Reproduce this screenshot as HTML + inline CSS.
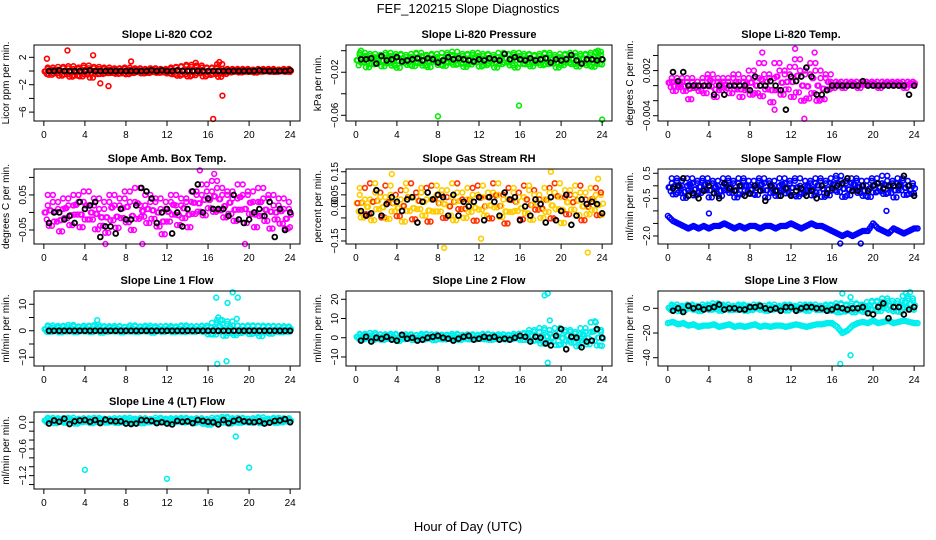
<!DOCTYPE html>
<html><head><meta charset="utf-8"><style>
body{margin:0;background:#fff;}
svg{display:block;font-family:"Liberation Sans",sans-serif;}
</style></head><body>
<svg id="chart" width="936" height="540" viewBox="0 0 936 540">
<text x="468" y="13" text-anchor="middle" font-size="13">FEF_120215  Slope Diagnostics</text>
<text x="468" y="531" text-anchor="middle" font-size="13">Hour of Day (UTC)</text>
</svg>
<script>
// x ticks shared
const xTicks=[0,4,8,12,16,20,24];
// CO2
const co2A=[0.3,0.5,0.2,0.6,0.4,0.7,0.3,0.5,0.8,0.4,0.6,0.3,0.5,0.2,0.4,0.3,0.5,0.2,0.4,0.3,0.2,0.4,0.3,0.2,0.3,0.5,0.6,0.7,0.9,0.6,0.8,0.5,0.4,0.5,1.0,0.3,0.2,0.3,0.2,0.3,0.2,0.1,0.3,0.2,0.3,0.2,0.2,0.3,0.2];
const co2B=[-0.6,-0.8,-0.5,-1.0,-0.7,-1.2,-0.9,-1.1,-0.8,-1.3,-0.7,-0.6,-0.5,-0.4,-0.6,-0.5,-0.7,-0.4,-0.3,-0.5,-0.4,-0.3,-0.4,-0.3,-0.5,-0.7,-1.0,-0.8,-1.2,-0.9,-0.6,-1.1,-0.8,-0.7,-1.3,-0.6,-0.3,-0.2,-0.3,-0.2,-0.2,-0.3,-0.2,-0.1,-0.2,-0.2,-0.1,-0.2];
const co2K=[0,0,0.1,0,0,0,0,0,0.1,0,0,0,0,0,0,0,0,0,0,0,0.1,0,0.1,0,0,0.1,0,0,0,0,0,0,0,0,0,0,0,0,0,0,0,0.1,0,0,0,0,0,0.1];
const co2OX=[0.3,2.3,4.8,5.5,6.3,8.5,16.5,17.4,17.1,14.8];
const co2OY=[1.8,3.0,2.3,-1.8,-2.2,1.4,-7.0,-3.6,1.3,1.2];
// Pressure
const prA=[-0.004,-0.002,-0.005,-0.003,-0.006,-0.004,-0.002,-0.005,-0.003,-0.004,-0.006,-0.003,-0.002,-0.005,-0.004,-0.003,-0.006,-0.002,-0.004,-0.001,-0.005,-0.003,-0.004,-0.002,-0.005,-0.003,-0.004,-0.006,-0.002,-0.003,-0.004,-0.002,-0.005,-0.003,-0.004,-0.005,-0.003,-0.002,-0.004,-0.006,-0.003,-0.004,-0.002,-0.005,-0.003,-0.004,-0.002,-0.001,-0.004];
const prB=[-0.016,-0.013,-0.018,-0.015,-0.012,-0.017,-0.014,-0.016,-0.019,-0.013,-0.015,-0.017,-0.014,-0.016,-0.018,-0.012,-0.015,-0.017,-0.013,-0.016,-0.014,-0.018,-0.015,-0.013,-0.017,-0.016,-0.014,-0.018,-0.015,-0.013,-0.016,-0.019,-0.014,-0.015,-0.017,-0.013,-0.016,-0.015,-0.014,-0.018,-0.016,-0.013,-0.015,-0.017,-0.014,-0.016,-0.018,-0.015];
const prK=[-0.008,-0.008,-0.007,-0.012,-0.005,-0.009,-0.008,-0.006,-0.010,-0.009,-0.008,-0.007,-0.009,-0.007,-0.008,-0.011,-0.009,-0.006,-0.008,-0.007,-0.008,-0.009,-0.010,-0.008,-0.009,-0.007,-0.008,-0.009,-0.003,-0.008,-0.006,-0.008,-0.009,-0.007,-0.009,-0.008,-0.007,-0.011,-0.008,-0.009,-0.008,-0.004,-0.009,-0.012,-0.008,-0.008,-0.009,-0.008];
const prOX=[8.0,15.9,24.0,0.5,23.6];
const prOY=[-0.061,-0.051,-0.064,0.000,0.000];
// Li-820 Temp
const tpA=[0.0010,0.0005,0.0010,0.0005,0.0010,0.0005,0.0005,0.0010,0.0015,0.0005,0.0010,0.0005,0.0010,0.0015,0.0005,0.0010,0.0020,0.0010,0.0030,0.0015,0.0010,0.0030,0.0020,0.0015,0.0025,0.0035,0.0020,0.0015,0.0030,0.0020,0.0010,0.0015,0.0005,0.0005,0.0005,0.0005,0.0005,0.0005,0.0005,0.0005,0.0005,0.0005,0.0005,0.0005,0.0005,0.0005,0.0005,0.0005,0.0005];
const tpB=[-0.0005,-0.0010,-0.0005,-0.0010,-0.0025,-0.0005,-0.0010,-0.0015,-0.0005,-0.0020,-0.0010,-0.0005,-0.0015,-0.0010,-0.0020,-0.0010,-0.0020,-0.0015,-0.0025,-0.0010,-0.0030,-0.0015,-0.0020,-0.0010,-0.0025,-0.0020,-0.0030,-0.0025,-0.0020,-0.0030,-0.0025,-0.0010,-0.0005,0,-0.0005,0,0,-0.0005,0,0,0,-0.0005,0,0,0,0,-0.0005,0];
const tpK=[0.0018,0.0006,0.0018,0,0,0,0,0,-0.0012,0,-0.0012,0,0,0,0,-0.0006,0.0012,0,0,0.0006,0,-0.0006,-0.0032,0.0012,0.0006,0.0012,0.0024,0.0012,-0.0012,-0.0012,-0.0006,0,0,0,0,0,0,0.0006,0,0,0,0,0,0,0,0,-0.0012,0];
const tpOX=[9.2,12.4,14.3,13.3,10.4];
const tpOY=[0.0044,0.0049,0.0044,-0.0044,-0.0032];
// Amb box temp
const abA=[0.02,0.05,0.03,0.01,0.04,0.02,0.05,0.03,0.06,0.02,0.04,0.01,0.03,0.05,0.02,0.04,0.06,0.03,0.07,0.02,0.05,0.03,0.04,0.01,0.03,0.05,0.02,0.04,0.03,0.06,0.05,0.08,0.06,0.09,0.07,0.05,0.06,0.04,0.08,0.05,0.06,0.03,0.07,0.04,0.05,0.02,0.04,0.01,0.03];
const abB=[-0.03,-0.06,-0.04,-0.07,-0.03,-0.05,-0.02,-0.06,-0.04,-0.03,-0.07,-0.05,-0.08,-0.04,-0.06,-0.03,-0.05,-0.07,-0.04,-0.02,-0.05,-0.03,-0.06,-0.08,-0.04,-0.02,-0.05,-0.03,-0.06,-0.02,-0.01,-0.03,0.00,-0.02,-0.01,-0.03,-0.02,-0.04,-0.01,-0.05,-0.02,-0.06,-0.03,-0.04,-0.07,-0.03,-0.05,-0.06];
const abK=[-0.03,0.00,0.00,-0.02,-0.01,-0.03,0.03,0.01,0.02,0.03,-0.07,-0.04,-0.04,-0.06,0.01,-0.02,-0.02,0.02,0.07,0.06,0.04,-0.03,0.00,0.01,-0.06,0.00,-0.04,0.01,0.06,0.08,0.00,0.04,0.01,0.01,0.01,-0.01,0.05,-0.02,-0.03,-0.02,0.00,0.01,-0.01,0.03,-0.07,0.01,-0.05,0.00];
const abOX=[15.2,16.6,6.0,19.6,9.6];
const abOY=[0.12,0.11,-0.09,-0.09,-0.09];
// Gas stream RH
const rhA=[0.05,0.08,0.03,0.10,0.06,0.04,0.09,0.05,0.03,0.07,0.10,0.04,0.06,0.08,0.03,0.09,0.05,0.07,0.04,0.10,0.06,0.03,0.08,0.05,0.09,0.04,0.06,0.10,0.05,0.03,0.08,0.06,0.04,0.09,0.07,0.05,0.03,0.08,0.06,0.10,0.04,0.07,0.05,0.09,0.06,0.03,0.08,0.05,0.06];
const rhB=[-0.04,-0.08,-0.05,-0.10,-0.03,-0.07,-0.09,-0.04,-0.06,-0.10,-0.05,-0.08,-0.03,-0.07,-0.09,-0.05,-0.04,-0.08,-0.06,-0.10,-0.03,-0.07,-0.05,-0.09,-0.04,-0.06,-0.08,-0.03,-0.07,-0.10,-0.05,-0.04,-0.08,-0.06,-0.09,-0.03,-0.07,-0.05,-0.08,-0.04,-0.10,-0.06,-0.03,-0.07,-0.09,-0.05,-0.04,-0.06];
const rhK=[-0.02,-0.04,-0.03,0.07,-0.04,0.01,0.04,0.02,-0.02,0.03,0.04,-0.07,0.02,0.06,0.03,0.05,0.04,-0.04,0.05,-0.04,0.02,0.00,0.02,0.04,-0.06,0.04,0.02,-0.04,0.06,0.03,0.04,-0.06,0.00,-0.04,0.03,0.01,-0.07,0.04,-0.06,-0.02,0.05,-0.08,-0.04,0.03,0.01,0.02,0.01,-0.03];
const rhOX=[8.6,12.2,19.0,22.6,23.6,3.5];
const rhOY=[-0.18,-0.14,0.15,-0.20,0.12,0.14];
// Sample flow
const sfA=[0.1,0.3,0.2,0.0,0.3,0.1,0.2,0.3,0.1,0.2,0.0,0.3,0.2,0.1,0.3,0.2,0.0,0.2,0.3,0.1,0.2,0.0,0.3,0.1,0.2,0.3,0.0,0.2,0.1,0.3,0.2,0.1,0.3,0.4,0.2,0.1,0.3,0.2,0.0,0.2,0.3,0.1,0.4,0.2,0.1,0.3,0.2,0.0,0.1];
const sfB=[-0.3,-0.5,-0.4,-0.6,-0.3,-0.5,-0.4,-0.3,-0.6,-0.4,-0.5,-0.3,-0.4,-0.6,-0.5,-0.3,-0.4,-0.5,-0.3,-0.6,-0.4,-0.5,-0.3,-0.4,-0.5,-0.6,-0.4,-0.3,-0.5,-0.4,-0.6,-0.5,-0.3,-0.4,-0.6,-0.5,-0.3,-0.4,-0.5,-0.6,-0.4,-0.3,-0.5,-0.4,-0.6,-0.3,-0.5,-0.4];
const sfC=[-1.2,-1.4,-1.5,-1.6,-1.7,-1.6,-1.7,-1.6,-1.7,-1.6,-1.6,-1.5,-1.6,-1.7,-1.6,-1.7,-1.6,-1.6,-1.7,-1.6,-1.6,-1.7,-1.6,-1.6,-1.5,-1.6,-1.7,-1.6,-1.5,-1.6,-1.6,-1.7,-1.8,-1.9,-2.0,-1.9,-2.0,-1.9,-1.8,-1.8,-1.5,-1.7,-1.8,-1.9,-1.7,-1.8,-1.9,-1.8,-1.7];
const sfK=[-0.1,0.0,0.3,-0.4,-0.3,-0.5,-0.2,0.0,-0.3,-0.5,0.1,-0.1,-0.2,0.0,-0.4,-0.3,0.0,-0.2,-0.6,0.0,-0.2,-0.4,-0.1,-0.4,-0.2,-0.1,-0.4,-0.2,-0.5,0.0,-0.3,-0.1,0.0,0.1,0.3,-0.2,-0.2,0.0,-0.2,0.0,0.1,-0.1,0.0,0.0,0.0,0.4,0.0,-0.4];
const sfOX=[4.0,21.3,16.8,18.8];
const sfOY=[-1.1,-1.0,-2.3,-2.3];
// Line 1 flow
const l1A=[1.5,2.0,1.2,1.8,1.4,2.2,1.6,1.3,1.9,1.5,2.1,1.4,1.7,1.2,1.8,1.5,1.3,2.0,1.6,1.4,1.9,1.2,1.7,1.5,1.8,1.3,1.6,2.0,1.4,1.7,1.5,1.9,1.3,3.0,4.0,2.5,3.5,2.0,1.8,1.5,2.0,1.6,1.9,1.4,1.8,1.5,1.7,1.3,1.6];
const l1B=[-0.8,-1.0,-0.6,-1.2,-0.7,-0.9,-1.1,-0.6,-0.8,-1.0,-0.7,-1.2,-0.9,-0.6,-0.8,-1.1,-0.7,-0.9,-1.0,-0.6,-0.8,-1.2,-0.7,-0.9,-0.6,-1.0,-0.8,-1.1,-0.7,-0.9,-0.6,-1.0,-2.0,-2.5,-1.5,-3.0,-2.0,-2.5,-1.5,-1.0,-2.0,-1.5,-3.0,-1.2,-1.8,-0.9,-1.1,-0.8];
const l1K=[0,0,0,0,0,0,0,0,0,0,0,0,0,0,0,0,0,0,0,0,0,0,0,0,0,0,0,0,0,0,0,0,0,0,0,0,0,0,0,0,0,0,0,0,0,0,0,0];
const l1OX=[16.8,16.9,17.8,17.9,18.4,18.9,18.8,17.0,5.2,17.2];
const l1OY=[12.5,-12.5,-11.5,10.5,14.5,12.5,4.5,5.0,4.0,4.0];
// Line 2 flow
const l2A=[1.5,2.0,1.2,2.5,1.5,1.8,1.2,2.0,1.5,1.0,1.8,1.4,1.2,2.0,1.5,1.8,1.0,1.6,1.2,2.0,1.5,1.4,1.8,1.2,1.5,2.0,1.6,1.2,1.8,1.5,1.2,2.0,1.8,2.5,4.0,3.0,5.0,4.0,2.0,5.0,3.0,4.0,3.0,2.0,5.0,3.0,8.0,4.0,3.0];
const l2B=[-1.0,-1.5,-0.8,-2.0,-1.2,-1.8,-1.0,-1.5,-2.5,-1.2,-1.0,-1.8,-1.2,-1.5,-1.0,-2.0,-1.2,-1.5,-1.0,-1.2,-1.8,-1.0,-1.5,-1.2,-1.0,-1.5,-1.8,-1.2,-1.0,-1.5,-1.2,-1.0,-1.8,-2.0,-3.0,-2.5,-5.0,-4.0,-3.0,-6.0,-5.0,-3.0,-4.0,-6.0,-3.0,-5.0,-4.0,-6.0];
const l2K=[-1.5,0.5,-2.0,0.0,-0.5,0.5,-1.0,-1.5,1.5,-0.5,0.0,-1.5,-1.0,0.0,0.5,1.0,0.0,-0.5,-1.5,-0.5,0.5,1.0,-1.0,-0.5,0.5,0.0,0.5,-1.0,-0.5,-1.0,0.0,1.0,0.5,-2.0,0.5,0.0,-3.0,-4.0,1.0,4.5,-6.0,0.5,0.0,-5.0,-2.0,-1.5,4.5,0.0];
const l2OX=[18.4,18.7,18.9,18.7,23.3,22.9];
const l2OY=[22.0,23.0,9.0,-13.0,8.5,8.0];
// Line 3 flow
const l3A=[2,3,1,2,3,2,1,3,2,4,2,3,1,2,3,2,1,3,2,2,3,1,2,3,2,1,3,2,3,1,2,3,2,4,3,2,4,3,2,5,6,5,8,6,4,6,10,8,6];
const l3B=[-2,-1,-3,-2,-1,-2,-3,-1,-2,-2,-3,-1,-2,-2,-1,-3,-2,-1,-2,-3,-2,-1,-2,-3,-1,-2,-2,-3,-1,-2,-2,-3,-3,-5,-4,-3,-5,-3,-4,-2,-3,-4,-2,-3,-4,-5,-2,-3];
const l3C=[-12,-11,-13,-12,-14,-13,-15,-14,-14,-13,-15,-14,-13,-15,-14,-15,-14,-13,-15,-14,-15,-14,-14,-15,-14,-13,-14,-15,-14,-13,-13,-12,-12,-15,-20,-18,-14,-12,-11,-12,-10,-12,-11,-10,-12,-11,-10,-11,-12];
const l3K=[-2,0,-3,2,0,1,-1,0,1,3,-1,0,0,-1,-1,1,1,2,0,-1,0,-2,1,1,-2,0,1,1,0,0,-2,-1,1,0,-1,0,0,1,-4,-5,1,4,-8,1,1,-5,-1,1];
const l3OX=[16.8,17.8,17.0,17.8,23.2,23.6];
const l3OY=[-45,-38,12,9,12,13];
// Line 4 (LT) flow
const l4A=[0.08,0.10,0.06,0.09,0.07,0.10,0.05,0.08,0.09,0.06,0.10,0.07,0.08,0.05,0.09,0.07,0.10,0.06,0.08,0.09,0.07,0.05,0.10,0.08,0.06,0.09,0.07,0.10,0.08,0.06,0.09,0.07,0.05,0.10,0.08,0.12,0.09,0.06,0.10,0.08,0.07,0.09,0.11,0.06,0.08,0.10,0.07,0.09,0.06];
const l4B=[-0.02,0.00,-0.04,-0.01,-0.03,0.00,-0.05,-0.02,-0.01,-0.04,-0.02,0.00,-0.03,-0.01,-0.04,-0.02,0.00,-0.03,-0.01,-0.05,-0.02,0.00,-0.03,-0.01,-0.04,-0.02,0.00,-0.03,-0.01,-0.04,-0.02,-0.06,-0.08,-0.05,-0.03,-0.04,-0.06,-0.02,-0.04,-0.01,-0.03,0.00,-0.05,-0.02,-0.01,-0.04,-0.02,0.00];
const l4K=[-0.03,0.04,0.01,0.08,-0.04,0.02,0.04,0.05,0.01,0.05,-0.02,0.06,0.03,0.02,0.02,-0.03,-0.04,-0.03,0.05,0.04,0.03,-0.02,0.00,-0.03,-0.05,0.03,0.01,0.02,-0.02,0.05,0.03,0.01,0.00,-0.05,0.05,-0.02,0.03,0.06,0.02,0.01,0.00,0.02,-0.03,-0.01,0.03,0.04,0.07,0.00];
const l4OX=[4.0,12.0,18.7,20.0];
const l4OY=[-1.07,-1.27,-0.32,-1.02];

const NS='http://www.w3.org/2000/svg';
const svg=document.getElementById('chart');
function mk(tag,attrs,parent){const e=document.createElementNS(NS,tag);for(const k in attrs)e.setAttribute(k,attrs[k]);(parent||svg).appendChild(e);return e;}

const panels=[
 {key:'co2',title:'Slope Li-820 CO2',ylab:'Licor ppm per min.',L:34,T:45,B:121,ymin:-7.3,ymax:3.8,ticks:[-6,-4,-2,0,2],labels:[-6,-2,2],fmt:v=>v<0?'\u2212'+(-v):''+v,col:'#ff0000',ser:[co2A,co2B],k:co2K,ox:co2OX,oy:co2OY},
 {key:'pressure',title:'Slope Li-820 Pressure',ylab:'kPa per min.',L:346,T:45,B:121,ymin:-0.0653,ymax:0.0053,ticks:[0,-0.02,-0.04,-0.06],labels:[-0.02,-0.06],fmt:v=>'\u2212'+(-v).toFixed(2),col:'#00ee00',ser:[prA,prB],k:prK,ox:prOX,oy:prOY},
 {key:'li820-temp',title:'Slope Li-820 Temp.',ylab:'degrees C per min.',L:658,T:45,B:121,ymin:-0.0047,ymax:0.0054,ticks:[0.004,0.002,0,-0.002,-0.004],labels:[0.002,-0.004],fmt:v=>v<0?'\u2212'+(-v).toFixed(3):v.toFixed(3),col:'#ff00ff',ser:[tpA,tpB],k:tpK,ox:tpOX,oy:tpOY},
 {key:'amb-box-temp',title:'Slope Amb. Box Temp.',ylab:'degrees C per min.',L:34,T:169,B:244,ymin:-0.09,ymax:0.124,ticks:[0.1,0.05,0,-0.05],labels:[0.05,-0.05],fmt:v=>v<0?'\u2212'+(-v).toFixed(2):v.toFixed(2),col:'#ff00ff',ser:[abA,abB],k:abK,ox:abOX,oy:abOY},
 {key:'gas-stream-rh',title:'Slope Gas Stream RH',ylab:'percent per min.',L:346,T:169,B:244,ymin:-0.163,ymax:0.162,ticks:[0.15,0.1,0.05,0,-0.05,-0.1,-0.15],labels:[0.15,0.05,0,-0.15],fmt:v=>v<0?'\u2212'+(-v).toFixed(2):v.toFixed(2),col:'#ffcc00',col2:'#ff3300',ser:[rhA,rhB],k:rhK,ox:rhOX,oy:rhOY},
 {key:'sample-flow',title:'Slope Sample Flow',ylab:'ml/min per min.',L:658,T:169,B:244,ymin:-2.32,ymax:0.67,ticks:[0.5,0,-0.5,-1,-1.5,-2],labels:[0.5,-0.5,-2],fmt:v=>v<0?'\u2212'+(-v).toFixed(1):v.toFixed(1),col:'#0000ff',ser:[sfA,sfB,sfC],k:sfK,ox:sfOX,oy:sfOY},
 {key:'line1-flow',title:'Slope Line 1 Flow',ylab:'ml/min per min.',L:34,T:291,B:366,ymin:-13.3,ymax:15,ticks:[-10,-5,0,5,10],labels:[-10,0,10],fmt:v=>v<0?'\u2212'+(-v):''+v,col:'#00eeee',ser:[l1A,l1B],k:l1K,ox:l1OX,oy:l1OY},
 {key:'line2-flow',title:'Slope Line 2 Flow',ylab:'ml/min per min.',L:346,T:291,B:366,ymin:-14.7,ymax:24.3,ticks:[-10,0,10,20],labels:[-10,0,10,20],fmt:v=>v<0?'\u2212'+(-v):''+v,col:'#00eeee',ser:[l2A,l2B],k:l2K,ox:l2OX,oy:l2OY},
 {key:'line3-flow',title:'Slope Line 3 Flow',ylab:'ml/min per min.',L:658,T:291,B:366,ymin:-46.7,ymax:14,ticks:[-40,-20,0],labels:[-40,-20,0],fmt:v=>v<0?'\u2212'+(-v):''+v,col:'#00eeee',ser:[l3A,l3B,l3C],k:l3K,ox:l3OX,oy:l3OY},
 {key:'line4-flow',title:'Slope Line 4 (LT) Flow',ylab:'ml/min per min.',L:34,T:412,B:489,ymin:-1.5,ymax:0.23,ticks:[0,-0.2,-0.4,-0.6,-0.8,-1,-1.2,-1.4],labels:[0,-0.6,-1.2],fmt:v=>v<0?'\u2212'+(-v).toFixed(1):v.toFixed(1),col:'#00eeee',ser:[l4A,l4B],k:l4K,ox:l4OX,oy:l4OY}
];

const fracs=[0,0.2,0.4,0.6,0.8,1];
panels.forEach(p=>{
  const W=266;
  const sx=h=>p.L+W*(h+0.96)/25.92;
  const sy=v=>p.B-(p.B-p.T)*(v-p.ymin)/(p.ymax-p.ymin);
  const g=mk('g',{});
  
  
  const t=mk('text',{x:p.L+W/2,y:p.T-7,'text-anchor':'middle','font-size':11,'font-weight':'bold'},g);
  t.textContent=p.title;
  
  
  const yl=mk('text',{transform:`translate(${p.L-25},${(p.T+p.B)/2}) rotate(-90)`,'text-anchor':'middle','font-size':10},g);
  yl.textContent=p.ylab;
  
  
  const pts=mk('g',{fill:'none','stroke-width':1.6},g);
  
  
  const A=p.ser[0],B=p.ser[1],C=p.ser[2];
  // dense band between upper (A) and lower (B) values
  A.forEach((a,i)=>{
    const b=B[Math.min(i,B.length-1)];
    fracs.forEach((f,j)=>{
      const h=i*0.5+f*0.5-0.12;
      if(h<0||h>24.1) return;
      const v=a+(b-a)*((j%2===0)?f:1-f);
      const c=mk('circle',{cx:sx(h),cy:sy(v),r:2.4,stroke:(p.col2&&(i+j)%3===0)?p.col2:p.col},pts);
      
      
    });
  });
  if(C){
    C.forEach((v,i)=>{
      const nxt=C[Math.min(i+1,C.length-1)];
      [0,0.33,0.67].forEach(f=>{
        const c=mk('circle',{cx:sx(i*0.5+f*0.5),cy:sy(v+(nxt-v)*f),r:2.4,stroke:p.col},pts);
        
        
      });
    });
  }
  p.ox.forEach((h,i)=>{
    const c=mk('circle',{cx:sx(h),cy:sy(p.oy[i]),r:2.4,stroke:p.col},pts);
    
    
  });
  p.k.forEach((v,i)=>{
    const c=mk('circle',{cx:sx(0.5+i*0.5),cy:sy(v),r:2.4,stroke:'#000','stroke-width':1.8},pts);
    
    
  });
  const box=mk('rect',{x:p.L,y:p.T,width:W,height:p.B-p.T,fill:'none',stroke:'#000','stroke-width':1},g);
  
  
  xTicks.forEach(h=>{
    mk('line',{x1:sx(h),x2:sx(h),y1:p.B,y2:p.B+5,stroke:'#000'},g);
    const lt=mk('text',{x:sx(h),y:p.B+17,'text-anchor':'middle','font-size':10},g);
    lt.textContent=h;
    
    
  });
  p.ticks.forEach(v=>{
    mk('line',{x1:p.L-5,x2:p.L,y1:sy(v),y2:sy(v),stroke:'#000'},g);
  });
  p.labels.forEach(v=>{
    const lt=mk('text',{transform:`translate(${p.L-8},${sy(v)}) rotate(-90)`,'text-anchor':'middle','font-size':10},g);
    lt.textContent=p.fmt(v);
    
    
  });
});
</script>
</body></html>
